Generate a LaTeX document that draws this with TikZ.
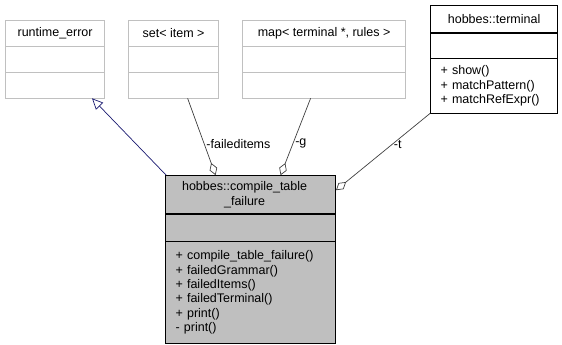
\documentclass[tikz,border=0pt]{standalone}
\usepackage{fontspec}
\setmainfont{Liberation Sans}
\usepackage{xcolor}
\usepackage{tikz}
\usetikzlibrary{arrows.meta,matrix}
\definecolor{umlfill}{HTML}{BFBFBF}
\definecolor{umlfaint}{HTML}{C0C0C0}
\definecolor{umledge}{HTML}{404040}
\definecolor{umlnavy}{HTML}{191970}

\begin{document}
\begin{tikzpicture}[x=1pt,y=-1pt,font=\fontsize{12.5}{14.4}\selectfont,
  classbox/.style={inner sep=0pt,anchor=north west,row sep=-\pgflinewidth,
    nodes={draw=umlfaint,line width=0.8pt,minimum width=#1,
    minimum height=25.5pt,inner xsep=6pt,inner ysep=1pt,align=center}},
  members/.style={text width=#1,align=left,inner xsep=10pt},
  aggr/.style={draw=umledge,line width=0.7pt,-{Diamond[open,length=13pt,width=8pt]}},
  inherit/.style={draw=umlnavy,line width=0.7pt,-{Triangle[open,length=11pt,width=10pt]}},
  edgelabel/.style={anchor=west,inner sep=2pt}]
\useasboundingbox (0,0) rectangle (562,345);

% external types
\matrix[classbox=99pt] (rte) at (5,20) {
\node (rte-1) {runtime\_error}; \\
\node (rte-2) {}; \\
\node (rte-3) {}; \\
};
\matrix[classbox=90pt] (setc) at (128,20) {
\node (setc-1) {set< item >}; \\
\node (setc-2) {}; \\
\node (setc-3) {}; \\
};
\matrix[classbox=163pt] (mapc) at (242,20) {
\node (mapc-1) {map< terminal *, rules >}; \\
\node (mapc-2) {}; \\
\node (mapc-3) {}; \\
};
\matrix[classbox=127pt,nodes={draw=black}] (term) at (430,5) {
\node[minimum height=27pt] (term-1) {hobbes::terminal}; \\
\node (term-2) {}; \\
\node[members=107pt,minimum height=54pt] (term-3) {+ show()\\+ matchPattern()\\+ matchRefExpr()}; \\
};

% the class itself
\matrix[classbox=170pt,nodes={draw=black,fill=umlfill}] (main) at (165,175) {
\node[minimum height=38pt] (main-1) {hobbes::compile\_table\hspace*{12pt}\\\_failure\hspace*{12pt}}; \\
\node[minimum height=27pt] (main-2) {}; \\
\node[members=150pt,minimum height=102pt] (main-3) {+ compile\_table\_failure()\\+ failedGrammar()\\+ failedItems()\\+ failedTerminal()\\+ print()\\- print()}; \\
};

% relations
\draw[inherit] ([xshift=1pt]main-1.north west) -- ([xshift=-13pt]rte-3.south east);
\draw[aggr] ([xshift=14pt]setc-3.south) -- node[edgelabel,pos=0.59] (lblitems) {-faileditems} ([xshift=-35pt]main-1.north);
\draw[aggr] ([xshift=-13.5pt]mapc-3.south) -- node[edgelabel,pos=0.59] (lblg) {-g} ([xshift=30pt]main-1.north);
\draw[aggr] (term-3.south west) -- node[edgelabel,pos=0.41] (lblt) {-t} ([yshift=-15pt]main-1.north east);
\end{tikzpicture}
\end{document}
